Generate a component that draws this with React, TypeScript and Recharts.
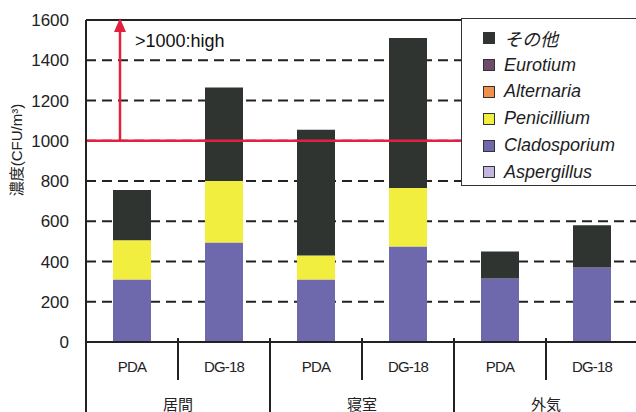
import { ComposedChart, Bar, XAxis, YAxis, CartesianGrid, ReferenceLine } from "recharts";

// sampling sites and media
const groups = ["居間", "寝室", "外気"];
const media = ["PDA", "DG-18"];

// CFU/m³ per genus, order: 居間PDA, 居間DG-18, 寝室PDA, 寝室DG-18, 外気PDA, 外気DG-18
const aspergillus = [0, 0, 0, 0, 0, 0];
const cladosporium = [310, 495, 310, 475, 315, 370];
const penicillium = [195, 305, 120, 290, 0, 0];
const alternaria = [0, 0, 0, 0, 0, 0];
const eurotium = [0, 0, 0, 0, 0, 0];
const others = [250, 465, 625, 745, 135, 210];

const yTicks = [0, 200, 400, 600, 800, 1000, 1200, 1400, 1600];
const threshold = 1000;

const series = [
  { key: "aspergillus", name: "Aspergillus", color: "#c4b4e2", values: aspergillus },
  { key: "cladosporium", name: "Cladosporium", color: "#6e69ad", values: cladosporium },
  { key: "penicillium", name: "Penicillium", color: "#f1ee40", values: penicillium },
  { key: "alternaria", name: "Alternaria", color: "#f0914a", values: alternaria },
  { key: "eurotium", name: "Eurotium", color: "#6c4b6b", values: eurotium },
  { key: "others", name: "その他", color: "#2f3430", values: others },
];

const data = groups.flatMap((g, gi) =>
  media.map((m, mi) => {
    const i = gi * media.length + mi;
    const row: any = { key: `${g}-${m}`, group: g, media: m };
    series.forEach((s) => (row[s.key] = s.values[i]));
    return row;
  })
);

const W = 640;
const H = 412;
const margin = { top: 20, right: 2, bottom: 0, left: 26 };
const Y_W = 60;
const X_H = 70;
const plotLeft = margin.left + Y_W;
const plotBottom = H - X_H;
const band = (W - plotLeft - margin.right) / data.length;

const FONT = "'Liberation Sans', Arial, 'Noto Sans CJK JP', sans-serif";
const RED = "#e2203f";

const MediaTick = (props: any) => {
  const { x, payload, index } = props;
  const row = data[index];
  const right = x + band / 2;
  const groupEnd = (index + 1) % media.length === 0;
  return (
    <g>
      {index === 0 && (
        <line x1={x - band / 2} x2={x - band / 2} y1={plotBottom - 4} y2={H} stroke="#222" strokeWidth={2} />
      )}
      <line x1={right} x2={right} y1={plotBottom - 4} y2={groupEnd ? H : plotBottom + 38} stroke="#222" strokeWidth={2} />
      <text x={x} y={plotBottom + 30} textAnchor="middle" fontSize={15} fill="#222" fontFamily={FONT} letterSpacing={-0.8}>
        {row ? row.media : payload.value}
      </text>
      {index % media.length === media.length - 1 && (
        <text x={x - band / 2} y={plotBottom + 68} textAnchor="middle" fontSize={15} fill="#222" fontFamily={FONT}>
          {row.group}
        </text>
      )}
    </g>
  );
};

const ArrowShape = (props: any) => {
  const { x1, y1, y2 } = props;
  const ax = x1 - 12;
  const top = Math.min(y1, y2);
  const bot = Math.max(y1, y2);
  return (
    <g>
      <line x1={ax} x2={ax} y1={bot} y2={top + 10} stroke={RED} strokeWidth={2.5} />
      <polygon points={`${ax - 6},${top + 12} ${ax + 6},${top + 12} ${ax},${top - 2}`} fill={RED} />
      <text x={ax + 15} y={top + 27} fontSize={18} fill="#111" fontFamily={FONT}>
        {`>${threshold}:high`}
      </text>
    </g>
  );
};

const LegendBox = () => (
  <div
    style={{
      position: "absolute",
      left: 461,
      top: 18,
      background: "#fff",
      border: "1.5px solid #333",
      width: 190,
      height: 168,
      boxSizing: "border-box",
      padding: "6px 0 0 21px",
      fontFamily: FONT,
    }}
  >
    {[...series].reverse().map((s) => (
      <div key={s.key} style={{ display: "flex", alignItems: "center", height: 26.8 }}>
        <span
          style={{
            width: 12,
            height: 12,
            background: s.color,
            border: "1.5px solid #333",
            boxSizing: "border-box",
            marginRight: 9,
          }}
        />
        <span style={{ fontStyle: "italic", fontSize: 18, color: "#1e1e1e" }}>{s.name}</span>
      </div>
    ))}
  </div>
);

export default function App() {
  return (
    <div style={{ position: "absolute", left: 0, top: 0, width: 636, height: 412, overflow: "hidden", background: "#fff" }}>
      <ComposedChart width={W} height={H} data={data} margin={margin}>
        <CartesianGrid vertical={false} stroke="#222" strokeWidth={2} strokeDasharray="10 6" />
        <XAxis
          dataKey="key"
          height={X_H}
          tick={<MediaTick />}
          tickLine={false}
          axisLine={{ stroke: "#222", strokeWidth: 2 }}
          interval={0}
        />
        <YAxis
          width={Y_W}
          domain={[0, 1600]}
          ticks={yTicks}
          tickLine={false}
          axisLine={{ stroke: "#222", strokeWidth: 2 }}
          tick={{ fill: "#222", fontSize: 17, fontFamily: FONT }}
          tickMargin={11}
          label={{
            content: () => (
              <text transform="translate(22,150) rotate(-90)" textAnchor="middle" fontSize={15} fill="#222" fontFamily={FONT}>
                濃度(CFU/m³)
              </text>
            ),
          }}
        />
        <ReferenceLine y={1600} stroke="#222" strokeWidth={2} />
        {series.map((s) => (
          <Bar key={s.key} dataKey={s.key} name={s.name} stackId="a" fill={s.color} barSize={38} isAnimationActive={false} />
        ))}
        <ReferenceLine y={threshold} stroke={RED} strokeWidth={2.5} />
        <ReferenceLine
          segment={[
            { x: data[0].key, y: threshold },
            { x: data[0].key, y: 1600 },
          ]}
          shape={<ArrowShape />}
        />
      </ComposedChart>
      <LegendBox />
    </div>
  );
}
